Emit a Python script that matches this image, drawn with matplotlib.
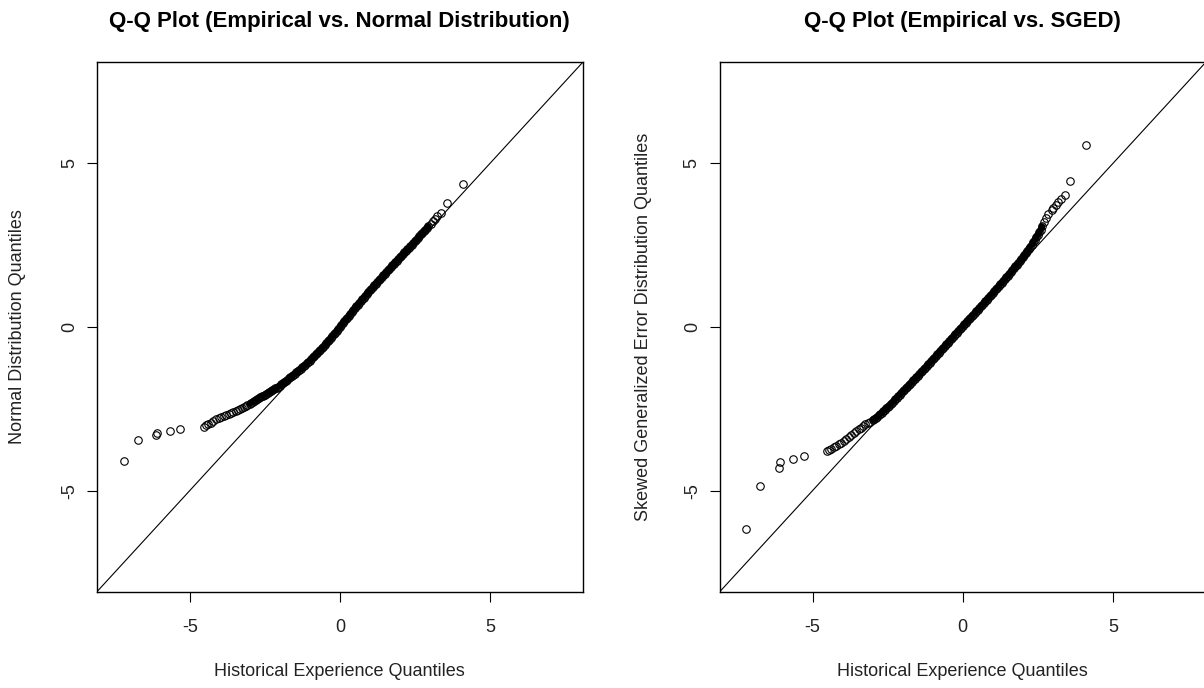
import matplotlib
matplotlib.use('Agg')
import matplotlib.pyplot as plt

plt.rcParams['font.family'] = ['Liberation Sans', 'DejaVu Sans']
plt.rcParams['axes.unicode_minus'] = False

# Left panel: empirical quantiles vs normal quantiles
emp_norm = [-7.20, -6.74, -6.13, -6.08, -5.67, -5.31, -4.53, -4.46, -4.40, -4.30,
            -4.22, -4.11, -4.03, -3.95, -3.86, -3.78, -3.70, -3.62, -3.55, -3.47,
            -3.40, -3.33, -3.26, -3.20, -3.14, -3.08,
            -3.00, -2.95, -2.90, -2.85, -2.80, -2.75, -2.70, -2.65, -2.60, -2.55,
            -2.50, -2.45, -2.40, -2.35, -2.30, -2.25, -2.20, -2.15, -2.10, -2.05,
            -2.00, -1.95, -1.90, -1.85, -1.80, -1.75, -1.70, -1.65, -1.60, -1.55,
            -1.50, -1.45, -1.40, -1.35, -1.30, -1.25, -1.20, -1.15, -1.10, -1.05,
            -1.00, -0.95, -0.90, -0.85, -0.80, -0.75, -0.70, -0.65, -0.60, -0.55,
            -0.50, -0.45, -0.40, -0.35, -0.30, -0.25, -0.20, -0.15, -0.10, -0.05,
            0.00, 0.05, 0.10, 0.15, 0.20, 0.25, 0.30, 0.35, 0.40, 0.45,
            0.50, 0.55, 0.60, 0.65, 0.70, 0.75, 0.80, 0.85, 0.90, 0.95,
            1.00, 1.05, 1.10, 1.15, 1.20, 1.25, 1.30, 1.35, 1.40, 1.45,
            1.50, 1.55, 1.60, 1.65, 1.70, 1.75, 1.80, 1.85, 1.90, 1.95,
            2.00, 2.05, 2.10, 2.15, 2.20, 2.25, 2.30, 2.35, 2.40, 2.45,
            2.50, 2.55, 2.60, 2.65, 2.70, 2.75, 2.80, 2.85, 2.90,
            2.94, 3.02, 3.10, 3.17, 3.25, 3.37, 3.56, 4.11]
norm_q = [-4.11, -3.44, -3.29, -3.25, -3.19, -3.11, -3.05, -3.01, -2.98, -2.93,
          -2.88, -2.80, -2.78, -2.74, -2.71, -2.68, -2.65, -2.62, -2.60, -2.57,
          -2.54, -2.50, -2.47, -2.44, -2.41, -2.38,
          -2.34, -2.31, -2.29, -2.26, -2.23, -2.20, -2.18, -2.15, -2.12, -2.10,
          -2.07, -2.04, -2.01, -1.99, -1.96, -1.93, -1.90, -1.87, -1.85, -1.82,
          -1.79, -1.75, -1.72, -1.68, -1.65, -1.61, -1.57, -1.54, -1.50, -1.47,
          -1.43, -1.39, -1.35, -1.31, -1.27, -1.23, -1.19, -1.15, -1.11, -1.07,
          -1.03, -0.98, -0.93, -0.89, -0.84, -0.79, -0.74, -0.69, -0.65, -0.60,
          -0.55, -0.50, -0.44, -0.39, -0.33, -0.28, -0.22, -0.17, -0.11, -0.06,
          0.00, 0.06, 0.11, 0.17, 0.23, 0.29, 0.34, 0.40, 0.46, 0.51,
          0.57, 0.63, 0.68, 0.74, 0.79, 0.85, 0.90, 0.96, 1.01, 1.07,
          1.12, 1.17, 1.22, 1.27, 1.32, 1.38, 1.43, 1.48, 1.53, 1.58,
          1.63, 1.68, 1.73, 1.78, 1.83, 1.88, 1.93, 1.98, 2.03, 2.08,
          2.13, 2.18, 2.23, 2.28, 2.33, 2.38, 2.42, 2.47, 2.52, 2.57,
          2.62, 2.67, 2.72, 2.78, 2.83, 2.88, 2.93, 2.98, 3.03,
          3.08, 3.15, 3.24, 3.31, 3.38, 3.49, 3.78, 4.38]

# Right panel: empirical quantiles vs skewed GED quantiles
emp_sged = [-7.21, -6.76, -6.13, -6.09, -5.66, -5.30, -4.52, -4.45, -4.38, -4.30,
            -4.22, -4.13, -4.05, -3.96, -3.88, -3.80, -3.72, -3.63, -3.55, -3.47,
            -3.40, -3.32, -3.24, -3.16, -3.08, -3.00, -2.95,
            -2.90, -2.85, -2.80, -2.75, -2.70, -2.65, -2.60, -2.55,
            -2.50, -2.45, -2.40, -2.35, -2.30, -2.25, -2.20, -2.15, -2.10, -2.05,
            -2.00, -1.95, -1.90, -1.85, -1.80, -1.75, -1.70, -1.65, -1.60, -1.55,
            -1.50, -1.45, -1.40, -1.35, -1.30, -1.25, -1.20, -1.15, -1.10, -1.05,
            -1.00, -0.95, -0.90, -0.85, -0.80, -0.75, -0.70, -0.65, -0.60, -0.55,
            -0.50, -0.45, -0.40, -0.35, -0.30, -0.25, -0.20, -0.15, -0.10, -0.05,
            0.00, 0.05, 0.10, 0.15, 0.20, 0.25, 0.30, 0.35, 0.40, 0.45,
            0.50, 0.55, 0.60, 0.65, 0.70, 0.75, 0.80, 0.85, 0.90, 0.95,
            1.00, 1.05, 1.10, 1.15, 1.20, 1.25, 1.30, 1.35, 1.40, 1.45,
            1.50, 1.55, 1.60, 1.65, 1.70, 1.75, 1.80, 1.85, 1.90, 1.95,
            2.00, 2.05, 2.10, 2.15, 2.20, 2.25, 2.30, 2.35, 2.40, 2.45,
            2.50, 2.55, 2.60,
            2.64, 2.70, 2.76, 2.85, 2.96, 3.02, 3.09, 3.18, 3.26, 3.40, 3.56, 4.09]
sged_q = [-6.17, -4.87, -4.31, -4.13, -4.03, -3.93, -3.80, -3.76, -3.72, -3.68,
          -3.64, -3.59, -3.54, -3.48, -3.43, -3.37, -3.31, -3.24, -3.18, -3.12,
          -3.08, -3.03, -2.98, -2.93, -2.89, -2.84, -2.81,
          -2.78, -2.74, -2.70, -2.66, -2.62, -2.58, -2.53, -2.49,
          -2.45, -2.40, -2.35, -2.31, -2.26, -2.21, -2.16, -2.11, -2.07, -2.02,
          -1.97, -1.92, -1.87, -1.83, -1.78, -1.73, -1.68, -1.63, -1.59, -1.54,
          -1.49, -1.44, -1.39, -1.34, -1.29, -1.24, -1.19, -1.14, -1.09, -1.04,
          -0.99, -0.94, -0.89, -0.84, -0.79, -0.74, -0.68, -0.63, -0.58, -0.53,
          -0.48, -0.43, -0.38, -0.33, -0.27, -0.22, -0.17, -0.12, -0.07, -0.02,
          0.03, 0.08, 0.13, 0.18, 0.23, 0.28, 0.33, 0.38, 0.43, 0.48,
          0.53, 0.58, 0.63, 0.68, 0.73, 0.78, 0.84, 0.89, 0.94, 0.99,
          1.04, 1.09, 1.15, 1.20, 1.25, 1.31, 1.36, 1.41, 1.47, 1.52,
          1.57, 1.63, 1.68, 1.74, 1.79, 1.85, 1.91, 1.96, 2.02, 2.07,
          2.13, 2.20, 2.26, 2.33, 2.39, 2.46, 2.52, 2.60, 2.67, 2.75,
          2.82, 2.90, 2.98,
          3.08, 3.20, 3.34, 3.45, 3.57, 3.64, 3.72, 3.81, 3.90, 4.02, 4.45, 5.55]

ticks = [-5, 0, 5]
lim = (-8.1, 8.1)

W, H = 1204, 688
fig = plt.figure(figsize=(W / 100, H / 100), dpi=100)


def px_box(left, top, right, bottom):
    return [left / W, 1 - bottom / H, (right - left) / W, (bottom - top) / H]


def dense_runs(xs, ys, gap=0.055, min_len=6):
    # runs of closely packed points, which overplot into a solid band
    runs, cur = [], [0]
    for i in range(1, len(xs)):
        if xs[i] - xs[i - 1] < gap:
            cur.append(i)
        else:
            if len(cur) >= min_len:
                runs.append(cur)
            cur = [i]
    if len(cur) >= min_len:
        runs.append(cur)
    return [([xs[i] for i in r], [ys[i] for i in r]) for r in runs]


def qq_panel(box, xs, ys, title, ylab, ylab_x):
    ax = fig.add_axes(px_box(*box))
    for rx, ry in dense_runs(xs, ys):
        ax.plot(rx, ry, color='black', lw=4.6, solid_capstyle='round')
    ax.plot(xs, ys, 'o', mfc='none', mec='black', ms=5.4, mew=0.8)
    ax.axline((0, 0), slope=1, color='black', lw=0.8)
    ax.set_xlim(lim)
    ax.set_ylim(lim)
    ax.set_xticks(ticks)
    ax.set_yticks(ticks)
    ax.tick_params(direction='out', length=7.5, width=0.8, labelsize=13,
                   colors='black', labelcolor='#222222')
    ax.tick_params(axis='x', pad=12)
    ax.tick_params(axis='y', pad=6)
    for lab in ax.get_yticklabels():
        lab.set_rotation(90)
        lab.set_va('center')
    for sp in ax.spines.values():
        sp.set_linewidth(1.0)

    cx = (box[0] + box[2]) / 2 / W
    fig.text(cx, 1 - 21 / H, title, ha='center', va='center',
             fontsize=16, fontweight='bold')
    fig.text(cx, 1 - 672 / H, 'Historical Experience Quantiles',
             ha='center', va='center', fontsize=13, color='#222222')
    cy = 1 - (box[1] + box[3]) / 2 / H
    fig.text(ylab_x / W, cy, ylab, ha='center', va='center',
             rotation=90, fontsize=13, color='#222222')
    return ax


qq_panel((96.7, 62, 583, 592), emp_norm, norm_q,
         'Q-Q Plot (Empirical vs. Normal Distribution)',
         'Normal Distribution Quantiles', 18)
qq_panel((719.5, 62, 1206, 592), emp_sged, sged_q,
         'Q-Q Plot (Empirical vs. SGED)',
         'Skewed Generalized Error Distribution Quantiles', 643)

fig.savefig('out.png', dpi=100)
